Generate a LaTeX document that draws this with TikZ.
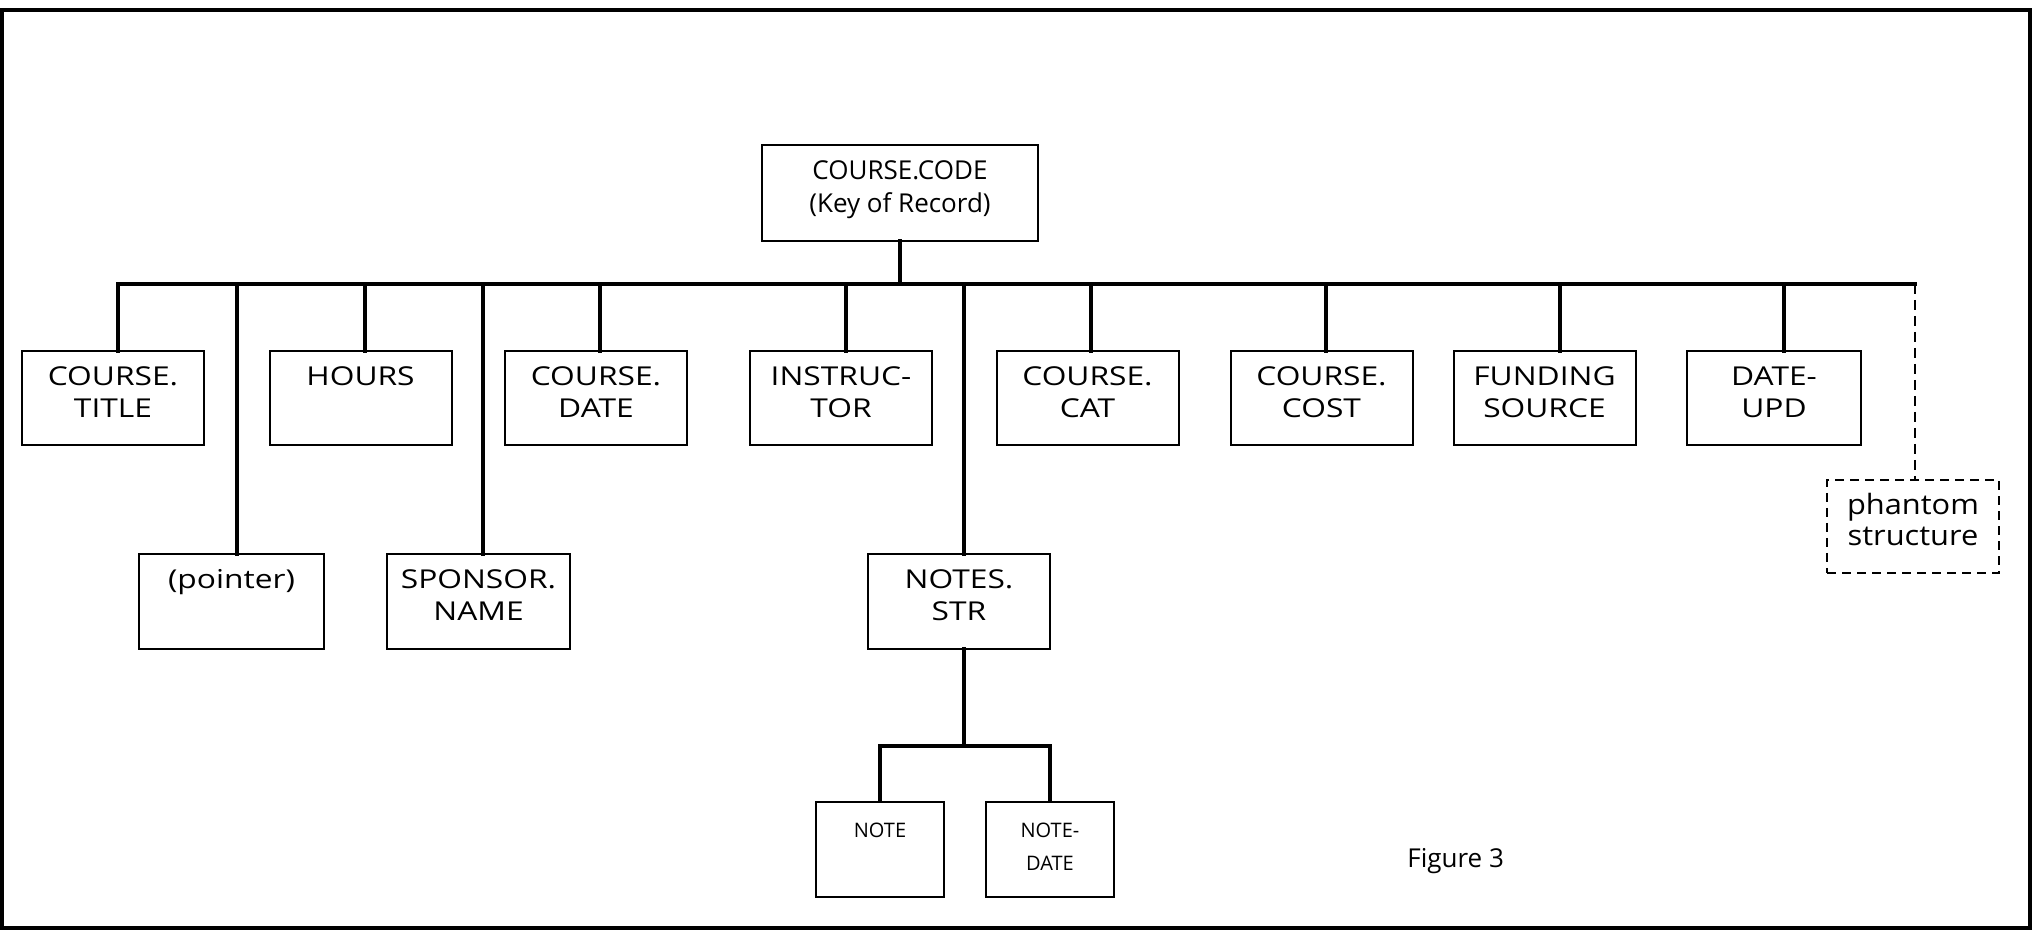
\documentclass[tikz,border=0pt]{standalone}
\usepackage{fontspec}
\setmainfont{Open Sans}
\newfontfamily\widefont[FakeStretch=1.22]{Open Sans}
\newfontfamily\phfont[FakeStretch=1.1]{Open Sans}
\newcommand{\fldtext}[4]{\parbox[c][#2][t]{#1}{\centering #3\rule{0pt}{17.5pt}#4}}
\newcommand{\wf}{\widefont\fontsize{13pt}{16pt}\selectfont}
\newcommand{\cf}{\fontsize{13pt}{16.5pt}\selectfont}
\newcommand{\nf}{\fontsize{10pt}{16.5pt}\selectfont}
\newcommand{\pf}{\phfont\fontsize{14pt}{15.5pt}\selectfont}
\tikzset{
  fld/.style={draw, line width=1pt, inner sep=0pt, outer sep=0pt},
  phbox/.style={draw, line width=1pt, inner sep=0pt, outer sep=0pt, dash pattern=on 4.5pt off 3pt},
  link/.style={line width=2pt, line cap=rect},
  busline/.style={line width=2.3pt, line cap=rect},
  phlink/.style={line width=1pt, dash pattern=on 5pt off 3pt},
  frame/.style={line width=2pt}
}
\begin{document}
\begin{tikzpicture}[x=0.5pt,y=-0.5pt]
\useasboundingbox (0,0) rectangle (2042,930);
\draw[frame] (2,10) rectangle (2030,928);

% root
\node[fld] (code) at (900,193) {\fldtext{138pt}{48pt}{\cf}{COURSE.CODE\\(Key of Record)}};

% first row
\node[fld] (title) at (113,398) {\fldtext{91pt}{47pt}{\wf}{COURSE.\\TITLE}};
\node[fld] (hours) at (360.5,398) {\fldtext{91pt}{47pt}{\wf}{HOURS}};
\node[fld] (cdate) at (596,398) {\fldtext{91pt}{47pt}{\wf}{COURSE.\\DATE}};
\node[fld] (instr) at (841,398) {\fldtext{91pt}{47pt}{\wf}{INSTRUC-\\TOR}};
\node[fld] (cat) at (1087.5,398) {\fldtext{91pt}{47pt}{\wf}{COURSE.\\CAT}};
\node[fld] (cost) at (1321.5,398) {\fldtext{91pt}{47pt}{\wf}{COURSE.\\COST}};
\node[fld] (fund) at (1544.5,398) {\fldtext{91pt}{47pt}{\wf}{FUNDING\\SOURCE}};
\node[fld] (dupd) at (1774,398) {\fldtext{87pt}{47pt}{\wf}{DATE-\\UPD}};

% second row
\node[fld] (ptr) at (231.5,601.5) {\fldtext{92.5pt}{47.5pt}{\wf}{(pointer)}};
\node[fld] (spon) at (478.5,601.5) {\fldtext{91.5pt}{47.5pt}{\wf}{SPONSOR.\\NAME}};
\node[fld] (notes) at (959,601.5) {\fldtext{91pt}{47.5pt}{\wf}{NOTES.\\STR}};

% phantom
\node[phbox] (ph) at (1913,526.5) {\fldtext{86pt}{46.5pt}{\pf}{phantom\\structure}};

% notes children
\node[fld] (note) at (880,849.5) {\fldtext{64pt}{47.5pt}{\nf}{NOTE}};
\node[fld] (ndate) at (1050,849.5) {\fldtext{64pt}{47.5pt}{\nf}{NOTE-\\DATE}};

% bus
\coordinate (busL) at (118,284);
\coordinate (busR) at (1915,284);
\draw[busline] (busL) -- (busR);
\draw[link] (code.south) -- (code.south |- busL);

\foreach \x/\n in {118/title, 237/ptr, 365/hours, 483/spon, 600/cdate, 846/instr, 964/notes, 1091/cat, 1326/cost, 1560/fund, 1784/dupd}{
  \coordinate (t\n) at (\x,284);
  \draw[link] (t\n) -- (t\n |- \n.north);
}
\draw[phlink] (busR) -- (busR |- ph.north);

% notes sub-structure
\coordinate (sbus) at (964,746);
\draw[link] (tnotes |- notes.south) -- (tnotes |- sbus);
\draw[link, line cap=butt] (note.north) -- (note.north |- sbus) -- (ndate.north |- sbus) -- (ndate.north);

\node[anchor=base west, inner sep=0pt, font=\fontsize{13pt}{15pt}\selectfont] (fig) at (1407,867) {Figure 3};
\end{tikzpicture}
\end{document}
